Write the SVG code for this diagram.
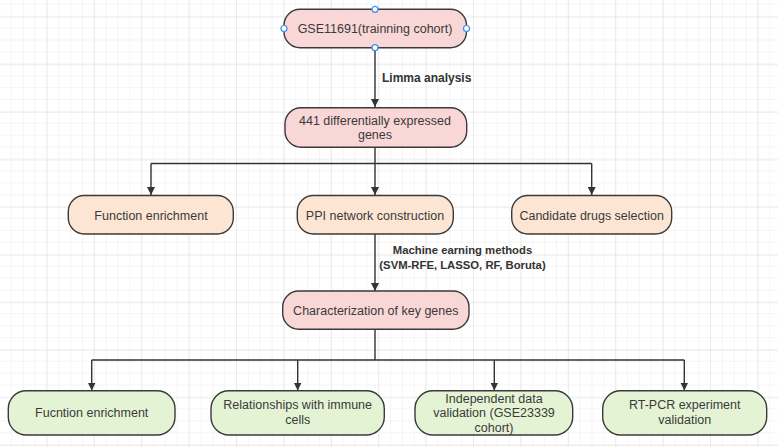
<svg xmlns="http://www.w3.org/2000/svg" width="778" height="447" viewBox="0 0 778 447">
<defs>
<pattern id="gMinor" patternUnits="userSpaceOnUse" x="0" y="4.8" width="11.85" height="11.9">
<path d="M11.85 0V11.9M0 11.9H11.85" fill="none" stroke="#ececec" stroke-width="1"/>
</pattern>
<pattern id="gMajor" patternUnits="userSpaceOnUse" x="0" y="16.7" width="47.4" height="47.6">
<path d="M47.4 0V47.6M0 0H47.4" fill="none" stroke="#e0e0e0" stroke-width="1"/>
</pattern>
<marker id="arr" viewBox="0 0 10 10" refX="10" refY="5" markerWidth="8" markerHeight="8" markerUnits="userSpaceOnUse" orient="auto">
<path d="M0 0L10 5L0 10z" fill="#333"/>
</marker>
<style>
.n rect{stroke:#3a3a3a;stroke-width:1.4}
.pink rect{fill:#f8d7d6}
.peach rect{fill:#fce6d3}
.green rect{fill:#e5f3d5}
.n text{font-family:"Liberation Sans",Arial,sans-serif;font-size:12.5px;fill:#3a3a3a;text-anchor:middle}
.lbl{font-family:"Liberation Sans",Arial,sans-serif;font-size:12px;font-weight:bold;fill:#333}
.sm{font-size:11.3px}
.c path{fill:none;stroke:#333;stroke-width:1.4}
.h{fill:#fff;stroke:#3b8ff0;stroke-width:1.2}
</style>
</defs>
<rect width="778" height="447" fill="#fff"/>
<rect width="778" height="447" fill="url(#gMinor)"/>
<rect width="778" height="447" fill="url(#gMajor)"/>

<g id="connectors" class="c">
<path d="M375 48V107" marker-end="url(#arr)"/>
<path d="M375 147V163.5M151 163.5H591.7M151 163.5V195" marker-end="url(#arr)"/>
<path d="M375 163.5V195" marker-end="url(#arr)"/>
<path d="M591.7 163.5V195" marker-end="url(#arr)"/>
<path d="M375 234V291" marker-end="url(#arr)"/>
<path d="M375 329.5V360M91.7 360H684.3M91.7 360V390.5" marker-end="url(#arr)"/>
<path d="M297.7 360V390.5" marker-end="url(#arr)"/>
<path d="M494.3 360V390.5" marker-end="url(#arr)"/>
<path d="M684.3 360V390.5" marker-end="url(#arr)"/>
</g>

<g id="labels">
<text class="lbl" x="382" y="82">Limma analysis</text>
<text class="lbl sm" x="462.5" y="253.5" text-anchor="middle">Machine earning methods</text>
<text class="lbl sm" x="462.5" y="268.5" text-anchor="middle">(SVM-RFE, LASSO, RF, Boruta)</text>
</g>

<g id="n1" class="n pink">
<rect x="284" y="9.3" width="182.5" height="38.4" rx="16"/>
<text x="375" y="33">GSE11691(trainning cohort)</text>
<circle class="h" cx="375" cy="9.3" r="3"/>
<circle class="h" cx="284" cy="28.5" r="3"/>
<circle class="h" cx="466.5" cy="28.5" r="3"/>
<circle class="h" cx="375" cy="47.7" r="3"/>
</g>
<g id="n2" class="n pink">
<rect x="285" y="107.7" width="181.7" height="39.6" rx="16"/>
<text x="375" y="124.5">441 differentially expressed</text>
<text x="375" y="139">genes</text>
</g>
<g id="n3" class="n peach">
<rect x="68.3" y="195.5" width="165" height="38.5" rx="16"/>
<text x="151" y="219.5">Function enrichment</text>
</g>
<g id="n4" class="n peach">
<rect x="297.3" y="195.5" width="156" height="38.5" rx="16"/>
<text x="375" y="219.5">PPI network construction</text>
</g>
<g id="n5" class="n peach">
<rect x="511.7" y="195.5" width="160" height="38.5" rx="16"/>
<text x="591.7" y="219.5">Candidate drugs selection</text>
</g>
<g id="n6" class="n pink">
<rect x="282.7" y="291" width="186.3" height="38.3" rx="16"/>
<text x="375.8" y="315">Characterization of key genes</text>
</g>
<g id="n7" class="n green">
<rect x="8.3" y="390.7" width="166.7" height="44.3" rx="18"/>
<text x="91.7" y="417">Fucntion enrichment</text>
</g>
<g id="n8" class="n green">
<rect x="211" y="390.7" width="173.3" height="44.3" rx="18"/>
<text x="297.7" y="409">Relationships with immune</text>
<text x="297.7" y="424">cells</text>
</g>
<g id="n9" class="n green">
<rect x="415" y="390.7" width="157.7" height="44.3" rx="18"/>
<text x="494" y="402.5">Independent data</text>
<text x="494" y="417">validation (GSE23339</text>
<text x="494" y="431.5">cohort)</text>
</g>
<g id="n10" class="n green">
<rect x="602.7" y="390.7" width="164" height="44.3" rx="18"/>
<text x="684.7" y="408.5">RT-PCR experiment</text>
<text x="684.7" y="423.5">validation</text>
</g>
</svg>
